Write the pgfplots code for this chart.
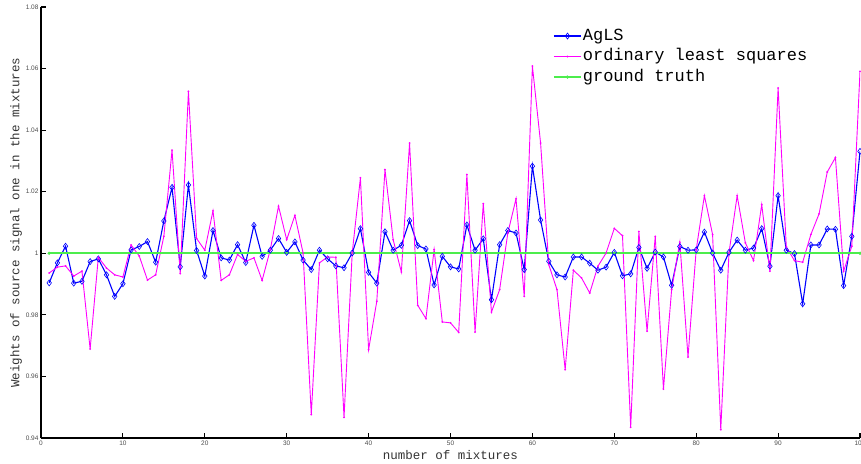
\documentclass[border=0pt]{standalone}
\usepackage{fontspec}
\setsansfont{Liberation Sans}
\setmonofont{Liberation Mono}
\usepackage{pgfplots}
\usepackage{pgfplotstable}
\pgfplotsset{compat=1.18}
\definecolor{gtgreen}{rgb}{0.3,0.93,0.3}
\definecolor{olsmag}{rgb}{1,0,1}
\definecolor{aglsblue}{rgb}{0,0,1}
\definecolor{tickgray}{rgb}{0.3,0.3,0.3}

\pgfplotstableread{
x agls ols
1 0.9904 0.9936
2 0.9969 0.9955
3 1.0023 0.9959
4 0.9903 0.9926
5 0.9909 0.9942
6 0.9973 0.9689
7 0.9982 0.9987
8 0.9930 0.9952
9 0.9860 0.9930
10 0.9901 0.9923
11 1.0011 1.0027
12 1.0022 0.9991
13 1.0038 0.9913
14 0.9971 0.9930
15 1.0105 1.0055
16 1.0214 1.0335
17 0.9956 0.9934
18 1.0222 1.0526
19 1.0009 1.0048
20 0.9926 1.0010
21 1.0074 1.0138
22 0.9985 0.9912
23 0.9978 0.9930
24 1.0028 0.9996
25 0.9970 0.9974
26 1.0091 0.9985
27 0.9990 0.9912
28 1.0010 1.0012
29 1.0048 1.0153
30 1.0003 1.0044
31 1.0037 1.0123
32 0.9978 1.0001
33 0.9947 0.9476
34 1.0010 0.9969
35 0.9982 0.9988
36 0.9959 0.9987
37 0.9953 0.9467
38 1.0001 1.0001
39 1.0080 1.0245
40 0.9938 0.9687
41 0.9903 0.9844
42 1.0070 1.0272
43 1.0010 1.0044
44 1.0026 0.9939
45 1.0106 1.0358
46 1.0025 0.9831
47 1.0014 0.9788
48 0.9897 1.0012
49 0.9990 0.9777
50 0.9956 0.9774
51 0.9949 0.9743
52 1.0092 1.0256
53 1.0010 0.9744
54 1.0047 1.0161
55 0.9849 0.9809
56 1.0028 0.9882
57 1.0074 1.0066
58 1.0066 1.0177
59 0.9947 0.9860
60 1.0283 1.0608
61 1.0108 1.0358
62 0.9974 0.9963
63 0.9930 0.9882
64 0.9923 0.9622
65 0.9988 0.9945
66 0.9988 0.9920
67 0.9968 0.9871
68 0.9945 0.9958
69 0.9955 1.0001
70 1.0003 1.0081
71 0.9927 1.0057
72 0.9933 0.9435
73 1.0019 1.0071
74 0.9951 0.9747
75 1.0004 1.0055
76 0.9988 0.9559
77 0.9896 0.9882
78 1.0022 1.0036
79 1.0010 0.9663
80 1.0011 1.0012
81 1.0069 1.0187
82 1.0001 1.0061
83 0.9945 0.9427
84 1.0003 1.0001
85 1.0043 1.0187
86 1.0010 1.0034
87 1.0017 0.9976
88 1.0080 1.0158
89 0.9958 0.9942
90 1.0187 1.0537
91 1.0010 1.0021
92 0.9999 0.9976
93 0.9836 0.9971
94 1.0027 1.0061
95 1.0027 1.0128
96 1.0079 1.0264
97 1.0078 1.0311
98 0.9895 0.9942
99 1.0055 1.0023
100 1.0331 1.0591
}\datatable

\pgfplotstableread{
x y
1 1
100 1
}\gttable

\begin{document}
\begin{tikzpicture}
\begin{axis}[
  scale only axis,
  width=819pt, height=431pt,
  xmin=0, xmax=100, ymin=0.94, ymax=1.08,
  axis x line=bottom, axis y line=left,
  axis line style={-, line width=1.1pt, black},
  tick align=inside,
  major tick length=5pt,
  tick style={line width=1.1pt, black},
  xtick={0,10,...,100},
  xticklabels={0,10,20,30,40,50,60,70,80,90,100},
  ytick={0.94,0.96,0.98,1,1.02,1.04,1.06,1.08},
  yticklabels={0.94,0.96,0.98,1,1.02,1.04,1.06,1.08},
  ticklabel style={font=\sffamily\fontsize{6.5}{7}\selectfont, text=tickgray},
  /pgf/number format/assume math mode=true,
  xticklabel style={yshift=1pt},
  yticklabel style={xshift=1pt},
  xlabel={number of mixtures},
  ylabel={Weights of source signal one in the mixtures},
  label style={font=\ttfamily\fontsize{12.5}{14}\selectfont, text=black!80},
  xlabel style={yshift=2pt},
  ylabel style={yshift=-3pt},
  legend style={draw=none, fill=none, at={(0.625,0.954)}, anchor=north west,
    font=\ttfamily\fontsize{17}{20}\selectfont, inner sep=0pt,
    nodes={inner sep=1pt, text height=12pt, text depth=4pt},
    row sep=2.5pt},
  legend cell align=left,
  legend image code/.code={\draw[mark repeat=2,mark phase=2] plot coordinates {(0pt,0pt) (13.5pt,0pt) (27pt,0pt)};},
]
\addplot[aglsblue, line width=1.1pt, mark=diamond, mark size=3pt, mark options={fill=white, line width=0.6pt}] table[x=x,y=agls] {\datatable};
\addlegendentry{AgLS}
\addplot[olsmag, line width=0.9pt, mark=*, mark size=0.4pt] table[x=x,y=ols] {\datatable};
\addlegendentry{ordinary least squares}
\addplot[gtgreen, line width=1.8pt, mark=*, mark size=0.5pt] table[x=x,y=y] {\gttable};
\addlegendentry{ground truth}
\end{axis}
\pgfresetboundingbox
\useasboundingbox ([shift={(-41pt,-25pt)}]current axis.south west) rectangle ([shift={(1pt,7pt)}]current axis.north east);
\end{tikzpicture}
\end{document}
